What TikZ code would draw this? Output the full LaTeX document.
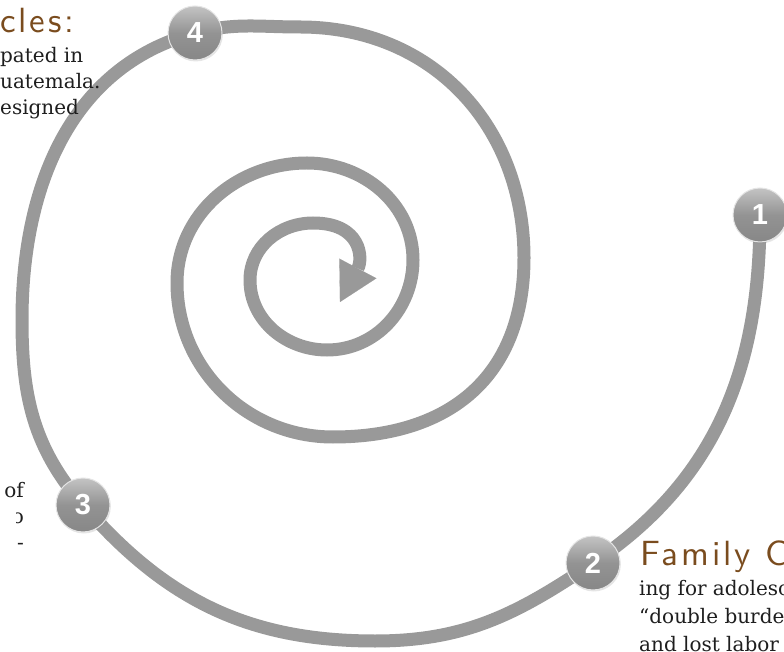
\documentclass[tikz,border=0pt]{standalone}
\usepackage{fontspec}
\setmainfont{DejaVu Serif}
\newfontfamily\handFont[LetterSpace=8]{lmsans10-regular.otf}
\newfontfamily\badgeFont{Liberation Sans}
\usepackage{xcolor}
\definecolor{spiralGray}{HTML}{999999}
\definecolor{badgeGray}{HTML}{939393}
\definecolor{noteBrown}{HTML}{7A4C1E}
\definecolor{darkText}{HTML}{1E1E1E}
\usepackage{tikz}
\usetikzlibrary{arrows.meta, shadows}

\begin{document}
\begin{tikzpicture}[
    x=1pt, y=1pt,
    spiralLine/.style={
        draw=spiralGray,
        line width=13pt
    },
    numBadge/.style={
        circle,
        minimum size=54pt,
        inner sep=0pt,
        top color=badgeGray!55!white,
        bottom color=badgeGray!92!black,
        middle color=badgeGray,
        draw=white!90!black,
        line width=1pt,
        drop shadow={opacity=0.2, shadow xshift=0.8pt, shadow yshift=-1.5pt},
        text=white,
        font=\badgeFont\bfseries\fontsize{29}{29}\selectfont
    },
    noteText/.style={
        anchor=base west,
        inner sep=0pt,
        align=left,
        text=darkText,
        font=\fontsize{20}{26}\selectfont
    },
    noteHead/.style={
        anchor=base west,
        inner sep=0pt,
        text=noteBrown,
        font=\handFont\fontsize{35}{35}\selectfont
    }
]
\useasboundingbox (0,0) rectangle (784,651);
\clip (0,0) rectangle (784,651);

% Badge positions and turning points of the spiral
\coordinate (p1) at (760,436);
\coordinate (p2) at (593,88);
\coordinate (p3) at (83,146);
\coordinate (p4) at (195,618);
\coordinate (b1) at (375,10);
\coordinate (l1) at (22,331);
\coordinate (t1) at (300,624);
\coordinate (r1) at (524,393);
\coordinate (b2) at (333,214);
\coordinate (l2) at (177,368);
\coordinate (t2) at (307,488);
\coordinate (r2) at (413,391);
\coordinate (b3) at (327,301);
\coordinate (l3) at (250,371);
\coordinate (t3) at (313,428);
\coordinate (tip) at (340,349);

% Spiral
\draw[spiralLine, -{Triangle[length=38pt, width=42pt, line width=0.1pt]}]
    (p1) to[out=-90, in=34] (p2)
    to[out=214, in=0] (b1)
    to[out=180, in=-49] (p3)
    to[out=131, in=-90] (l1)
    to[out=90, in=-165] (p4)
    to[out=15, in=180] (t1)
    to[out=0, in=90, looseness=1.05] (r1)
    to[out=-90, in=0, looseness=1.15] (b2)
    to[out=180, in=-90] (l2)
    to[out=90, in=180] (t2)
    to[out=0, in=90] (r2)
    to[out=-90, in=0] (b3)
    to[out=180, in=-90] (l3)
    to[out=90, in=180] (t3)
    to[out=0, in=62, looseness=1.5] (tip);

% Step badges
\node[numBadge] (badge1) at (p1) {1};
\node[numBadge] (badge2) at (p2) {2};
\node[numBadge] (badge3) at (p3) {3};
\node[numBadge] (badge4) at (p4) {4};

% Top-left note
\node[noteHead] (headTop) at (0,618) {cles:};
\node[noteText] (noteTop) at (0,536) {pated in\\uatemala.\\esigned};

% Lower-left note
\node[noteText, anchor=base east] (noteLeft1) at (24,154) {of};
\begin{scope}
    \clip (16,118) rectangle (30,146);
    \node[noteText, anchor=base east] (noteLeft2) at (24,128) {o};
\end{scope}
\node[noteText, anchor=base east] (noteLeft3) at (24,102) {-};

% Bottom-right note
\node[noteHead] (headBottom) at (640,86) {Family C};
\node[noteText, font=\fontsize{20}{28}\selectfont] (noteBottom) at (639,0) {ing for adolesc\\“double burde\\and lost labor};

\end{tikzpicture}
\end{document}
